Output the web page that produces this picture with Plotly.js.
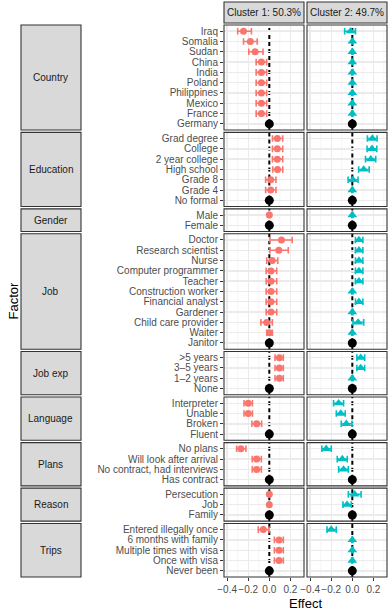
<!DOCTYPE html>
<html>
<head>
<meta charset="utf-8">
<script src="https://cdn.plot.ly/plotly-3.0.1.min.js"></script>
<style>
  html, body { margin: 0; padding: 0; background: #fff; }
  #chart { width: 389px; height: 611px; }
</style>
</head>
<body>
<div id="chart"></div>
<script>
// Facet groups (left strips), top to bottom
const factorNames = ["Country", "Education", "Gender", "Job", "Job exp", "Language", "Plans", "Reason", "Trips"];

// One entry per row: its factor and level label
const rowFactor = [
  "Country","Country","Country","Country","Country","Country","Country","Country","Country","Country",
  "Education","Education","Education","Education","Education","Education","Education",
  "Gender","Gender",
  "Job","Job","Job","Job","Job","Job","Job","Job","Job","Job","Job",
  "Job exp","Job exp","Job exp","Job exp",
  "Language","Language","Language","Language",
  "Plans","Plans","Plans","Plans",
  "Reason","Reason","Reason",
  "Trips","Trips","Trips","Trips","Trips"
];
const rowLevel = [
  "Iraq","Somalia","Sudan","China","India","Poland","Philippines","Mexico","France","Germany",
  "Grad degree","College","2 year college","High school","Grade 8","Grade 4","No formal",
  "Male","Female",
  "Doctor","Research scientist","Nurse","Computer programmer","Teacher","Construction worker",
  "Financial analyst","Gardener","Child care provider","Waiter","Janitor",
  ">5 years","3\u20135 years","1\u20132 years","None",
  "Interpreter","Unable","Broken","Fluent",
  "No plans","Will look after arrival","No contract, had interviews","Has contract",
  "Persecution","Job","Family",
  "Entered illegally once","6 months with family","Multiple times with visa","Once with visa","Never been"
];
// Reference (baseline) level of each factor
const rowIsBaseline = [
  0,0,0,0,0,0,0,0,0,1,
  0,0,0,0,0,0,1,
  0,1,
  0,0,0,0,0,0,0,0,0,0,1,
  0,0,0,1,
  0,0,0,1,
  0,0,0,1,
  0,0,1,
  0,0,0,0,1
];

// Cluster 1: effect estimates and interval bounds
const c1Est = [
  -0.245,-0.18,-0.135,-0.075,-0.075,-0.075,-0.075,-0.075,-0.075,0,
  0.076,0.076,0.076,0.078,0.013,0.013,0,
  0,0,
  0.115,0.09,0.027,0.016,0.016,0.016,0.016,0.016,-0.025,0.002,0,
  0.095,0.095,0.095,0,
  -0.2,-0.2,-0.12,0,
  -0.27,-0.12,-0.12,0,
  0,0,0,
  -0.057,0.092,0.092,0.092,0
];
const c1Lo = [
  -0.30,-0.245,-0.195,-0.125,-0.125,-0.125,-0.125,-0.125,-0.125,0,
  0.03,0.03,0.03,0.032,-0.035,-0.035,0,
  -0.006,0,
  0.006,0.006,-0.025,-0.03,-0.03,-0.03,-0.03,-0.03,-0.08,-0.025,0,
  0.054,0.054,0.054,0,
  -0.24,-0.24,-0.165,0,
  -0.31,-0.162,-0.162,0,
  -0.006,-0.006,0,
  -0.105,0.048,0.048,0.048,0
];
const c1Hi = [
  -0.17,-0.115,-0.06,-0.025,-0.025,-0.025,-0.025,-0.025,-0.025,0,
  0.127,0.127,0.127,0.128,0.063,0.063,0,
  0.006,0,
  0.217,0.18,0.08,0.07,0.07,0.07,0.07,0.07,0.029,0.029,0,
  0.133,0.133,0.133,0,
  -0.16,-0.16,-0.073,0,
  -0.222,-0.076,-0.076,0,
  0.006,0.006,0,
  -0.003,0.133,0.133,0.133,0
];

// Cluster 2: effect estimates and interval bounds
const c2Est = [
  -0.016,0,0,0,0,0,0,0,0,0,
  0.19,0.187,0.175,0.108,0.006,0,0,
  0,0,
  0.063,0.063,0.063,0.063,0.063,0,0.063,0,0.055,0,0,
  0.079,0.079,0,0,
  -0.13,-0.11,-0.057,0,
  -0.248,-0.095,-0.083,0,
  0.022,-0.05,0,
  -0.2,0,0,0,0
];
const c2Lo = [
  -0.073,-0.005,-0.005,-0.005,-0.005,-0.005,-0.005,-0.005,-0.005,0,
  0.143,0.14,0.125,0.06,-0.04,-0.005,0,
  -0.005,0,
  0.03,0.03,0.03,0.03,0.03,-0.005,0.03,-0.005,0.006,-0.005,0,
  0.043,0.043,-0.005,0,
  -0.178,-0.152,-0.105,0,
  -0.289,-0.143,-0.13,0,
  -0.038,-0.089,0,
  -0.24,-0.005,-0.005,-0.005,0
];
const c2Hi = [
  0.03,0.005,0.005,0.005,0.005,0.005,0.005,0.005,0.005,0,
  0.235,0.232,0.222,0.16,0.054,0.005,0,
  0.005,0,
  0.1,0.1,0.1,0.1,0.1,0.005,0.1,0.005,0.108,0.005,0,
  0.117,0.117,0.005,0,
  -0.083,-0.067,-0.003,0,
  -0.2,-0.048,-0.038,0,
  0.083,-0.01,0,
  -0.152,0.005,0.005,0.005,0
];

const clusterLabels = ["Cluster 1: 50.3%", "Cluster 2: 49.7%"];
const xTickVals = [-0.4, -0.2, 0.0, 0.2];
const xGridMajor = [-0.4, -0.2, 0.2];          // 0 is covered by the dashed reference line
const xGridMinor = [-0.3, -0.1, 0.1, 0.3];

// ---- layout geometry (pixels) ----
const W = 389, H = 611;
const M = { l: 224, r: 2, t: 25, b: 34 };
const plotW = W - M.l - M.r;          // 163
const plotH = H - M.t - M.b;          // 552
const panelGap = 2.3;                 // vertical gap between facet rows
const colGap = 3;                     // horizontal gap between cluster columns
const colW = (plotW - colGap) / 2;
const colDomains = [[0, colW / plotW], [(colW + colGap) / plotW, 1]];

const FONT = "Liberation Sans, Arial, Helvetica, sans-serif";
const COLORS = ["#F8766D", "#00BFC4"];
const SYMBOLS = ["circle", "triangle-up"];
const SIZES = [7, 8.5];

// rows per facet -> panel heights (discrete axis padded 0.6 each side)
const groupRows = factorNames.map(f => rowFactor.map((r, i) => r === f ? i : -1).filter(i => i >= 0));
const unitsTotal = groupRows.reduce((s, g) => s + g.length + 0.2, 0);
const unitPx = (plotH - panelGap * (factorNames.length - 1)) / unitsTotal;

const yDomains = [];
let yTop = 0;
groupRows.forEach(g => {
  const h = (g.length + 0.2) * unitPx;
  yDomains.push([1 - (yTop + h) / plotH, 1 - yTop / plotH]);
  yTop += h + panelGap;
});

const yName = i => (i === 0 ? "y" : "y" + (i + 1));
const yLayoutName = i => (i === 0 ? "yaxis" : "yaxis" + (i + 1));
const xNames = ["x", "x2"];
const px = v => (v - M.l) / plotW;          // pixel column -> paper x
const py = v => 1 - (v - M.t) / plotH;      // pixel row -> paper y

const traces = [];
const layout = {
  width: W, height: H,
  margin: M,
  paper_bgcolor: "#ffffff",
  plot_bgcolor: "#ffffff",
  showlegend: false,
  font: { family: FONT, size: 10, color: "#4d4d4d" },
  shapes: [],
  annotations: []
};

const ests = [c1Est, c2Est], los = [c1Lo, c2Lo], his = [c1Hi, c2Hi];

groupRows.forEach((rows, gi) => {
  const levels = rows.map(i => rowLevel[i]);
  const n = levels.length;
  layout[yLayoutName(gi)] = {
    domain: yDomains[gi],
    type: "category",
    categoryorder: "array",
    categoryarray: levels,
    tickmode: "array",
    tickvals: levels,
    ticktext: levels,
    range: [n - 0.4, -0.6],
    anchor: "x",
    ticks: "outside",
    ticklen: 3,
    tickwidth: 1,
    tickcolor: "#333333",
    tickfont: { family: FONT, size: 10, color: "#4d4d4d" },
    showgrid: true,
    gridcolor: "#ebebeb",
    gridwidth: 1.4,
    zeroline: false,
    showline: false,
    fixedrange: true
  };

  const eff = rows.filter(i => !rowIsBaseline[i]);
  const base = rows.filter(i => rowIsBaseline[i]);

  [0, 1].forEach(c => {
    // thin minor vertical grid lines
    xGridMinor.forEach(v => layout.shapes.push({
      type: "line", xref: xNames[c], yref: yName(gi) + " domain",
      x0: v, x1: v, y0: 0, y1: 1,
      line: { color: "#f2f2f2", width: 0.8 },
      layer: "below"
    }));
    // zero reference line
    layout.shapes.push({
      type: "line", xref: xNames[c], yref: yName(gi) + " domain",
      x0: 0, x1: 0, y0: 0, y1: 1,
      line: { color: "#000000", width: 2, dash: "4px,3px" },
      layer: "below"
    });

    traces.push({
      type: "scatter", mode: "markers",
      xaxis: xNames[c], yaxis: yName(gi),
      x: eff.map(i => ests[c][i]),
      y: eff.map(i => rowLevel[i]),
      marker: { color: COLORS[c], size: SIZES[c], symbol: SYMBOLS[c], line: { width: 0 } },
      error_x: {
        type: "data", symmetric: false,
        array: eff.map(i => his[c][i] - ests[c][i]),
        arrayminus: eff.map(i => ests[c][i] - los[c][i]),
        color: COLORS[c], thickness: 1.6, width: 3.3
      },
      hoverinfo: "skip"
    });
    traces.push({
      type: "scatter", mode: "markers",
      xaxis: xNames[c], yaxis: yName(gi),
      x: base.map(i => ests[c][i]),
      y: base.map(i => rowLevel[i]),
      marker: { color: "#000000", size: 9, symbol: "circle" },
      hoverinfo: "skip"
    });

    // panel border
    layout.shapes.push({
      type: "rect", xref: "paper", yref: "paper",
      x0: colDomains[c][0], x1: colDomains[c][1], y0: yDomains[gi][0], y1: yDomains[gi][1],
      line: { color: "#333333", width: 1.1 },
      layer: "above"
    });
  });

  // left facet strip
  layout.shapes.push({
    type: "rect", xref: "paper", yref: "paper",
    x0: px(21), x1: px(81), y0: yDomains[gi][0], y1: yDomains[gi][1],
    fillcolor: "#d9d9d9", line: { color: "#333333", width: 1.1 }, layer: "above"
  });
  layout.annotations.push({
    xref: "paper", yref: "paper",
    x: px(51), y: (yDomains[gi][0] + yDomains[gi][1]) / 2,
    text: factorNames[gi], showarrow: false,
    xanchor: "center", yanchor: "middle",
    font: { family: FONT, size: 10, color: "#1a1a1a" }
  });
});

// x axes (ticks shown under the bottom facet row)
const bottomY = yName(factorNames.length - 1);
[0, 1].forEach(c => {
  layout[c === 0 ? "xaxis" : "xaxis2"] = {
    domain: colDomains[c],
    anchor: bottomY,
    range: [-0.43, 0.329],
    tickmode: "array",
    tickvals: xTickVals,
    ticktext: xTickVals.map(v => v.toFixed(1).replace("-", "\u2212")),
    tickangle: 0,
    ticks: "outside",
    ticklen: 3,
    tickwidth: 1,
    tickcolor: "#333333",
    tickfont: { family: FONT, size: 10, color: "#4d4d4d" },
    showgrid: false,
    minor: { tickmode: "array", tickvals: xGridMajor, showgrid: true, gridcolor: "#ebebeb", gridwidth: 1.4, ticklen: 0 },
    zeroline: false,
    showline: false,
    fixedrange: true
  };

  // top cluster strip
  layout.shapes.push({
    type: "rect", xref: "paper", yref: "paper",
    x0: colDomains[c][0], x1: colDomains[c][1], y0: py(23), y1: py(2),
    fillcolor: "#d9d9d9", line: { color: "#333333", width: 1.1 }, layer: "above"
  });
  layout.annotations.push({
    xref: "paper", yref: "paper",
    x: (colDomains[c][0] + colDomains[c][1]) / 2, y: py(12.5),
    text: clusterLabels[c], showarrow: false,
    xanchor: "center", yanchor: "middle",
    font: { family: FONT, size: 10, color: "#1a1a1a" }
  });
});

// axis titles
layout.annotations.push({
  xref: "paper", yref: "paper",
  x: 0.5, y: py(603),
  text: "Effect", showarrow: false, xanchor: "center", yanchor: "middle",
  font: { family: FONT, size: 13, color: "#000000" }
});
layout.annotations.push({
  xref: "paper", yref: "paper",
  x: px(12.5), y: 0.5,
  text: "Factor", showarrow: false, textangle: -90, xanchor: "center", yanchor: "middle",
  font: { family: FONT, size: 13, color: "#000000" }
});

Plotly.newPlot("chart", traces, layout, { staticPlot: true, displayModeBar: false });
</script>
</body>
</html>
